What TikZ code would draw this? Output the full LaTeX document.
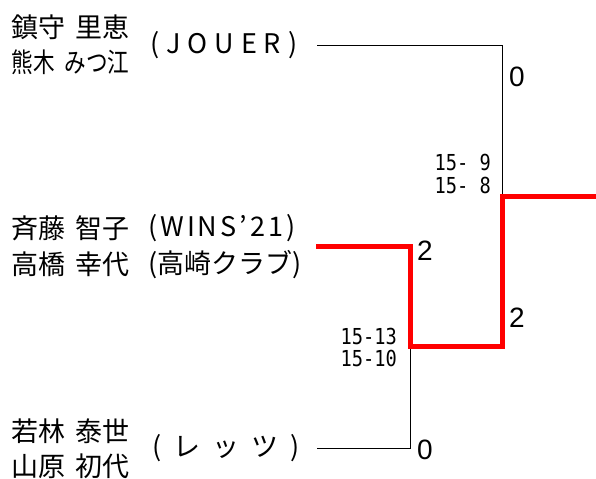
\documentclass[tikz,border=0pt]{standalone}
\usepackage{fontspec}
\usepackage{graphicx}
\newfontfamily\jpfont{Noto Sans CJK JP}
\newfontfamily\numfont{Liberation Sans}
\newfontfamily\gamefont[FakeStretch=0.85]{DejaVu Sans Mono}
% spread the letters of a club name over its cell
\newcommand\spread[1]{\makebox[147bp][s]{\spreadfirst#1\relax}}
\def\spreadfirst#1{#1\spreadnext}
\def\spreadnext#1{\ifx\relax#1\else\hfil#1\expandafter\spreadnext\fi}
\newcommand\namecell[2]{\makebox[118bp][s]{#1\hfil#2}}
\begin{document}
\begin{tikzpicture}[line join=miter,
    player/.style={anchor=west,inner sep=0pt,font=\jpfont\fontsize{27bp}{30bp}\selectfont},
    score/.style={inner sep=0pt,font=\numfont\fontsize{28bp}{30bp}\selectfont},
    game/.style={anchor=east,inner sep=0pt,font=\gamefont\fontsize{22bp}{24bp}\selectfont},
    lost/.style={line width=0.9bp,black},
    won/.style={line width=5bp,red},]
    \useasboundingbox (0bp,0bp) rectangle (596bp,479bp);
    %%
    \node (p1a) at (11.5bp,451.5bp) [player] {\namecell{鎮守}{里恵}};
    \node (p1b) at (11.5bp,416.5bp) [player] {\scalebox{0.8}[1]{\makebox[147bp][s]{熊木\hfil みつ江}}};
    \node (c1) at (150.0bp,434.0bp) [player] {\spread{(JOUER)}};
    \node (p2a) at (11.5bp,250.5bp) [player] {\namecell{斉藤}{智子}};
    \node (p2b) at (11.5bp,214.5bp) [player] {\namecell{高橋}{幸代}};
    \node (c2a) at (148.0bp,250.5bp) [player] {\spread{(WINS’21)}};
    \node (c2b) at (148.0bp,214.5bp) [player] {\spread{(高崎クラブ)}};
    \node (p3a) at (11.5bp,48.0bp) [player] {\namecell{若林}{泰世}};
    \node (p3b) at (11.5bp,13.0bp) [player] {\namecell{山原}{初代}};
    \node (c3) at (152.0bp,31.0bp) [player] {\spread{(レッツ)}};
    %
    \coordinate (e1) at (317.0bp,434.0bp);
    \coordinate (e2) at (316.0bp,232.0bp);
    \coordinate (e3) at (317.0bp,31.0bp);
    \coordinate (k1) at (502.0bp,434.0bp);
    \coordinate (k2) at (410.0bp,232.0bp);
    \coordinate (k3) at (410.0bp,31.0bp);
    \coordinate (m1) at (410.0bp,132.0bp);
    \coordinate (m2) at (502.0bp,132.0bp);
    \coordinate (f) at (502.0bp,282.0bp);
    \coordinate (out) at (596.0bp,282.0bp);
    \draw [lost] (e1) -- (k1) -- (f);
    \draw [lost] (e3) -- (k3) -- (m1);
    \draw [won] (e2) -- (k2) -- (m1) -- (m2) -- (f) -- (out);
    %
    \node (s1) at (517.0bp,402.0bp) [score] {0};
    \node (s2) at (425.0bp,228.0bp) [score] {2};
    \node (s3) at (517.0bp,161.0bp) [score] {2};
    \node (s4) at (425.0bp,29.0bp) [score] {0};
    \node (g1) at (491.0bp,316.5bp) [game] {15- 9};
    \node (g2) at (491.0bp,294.0bp) [game] {15- 8};
    \node (g3) at (397.0bp,143.0bp) [game] {15-13};
    \node (g4) at (397.0bp,121.0bp) [game] {15-10};
    %
\end{tikzpicture}
\end{document}
